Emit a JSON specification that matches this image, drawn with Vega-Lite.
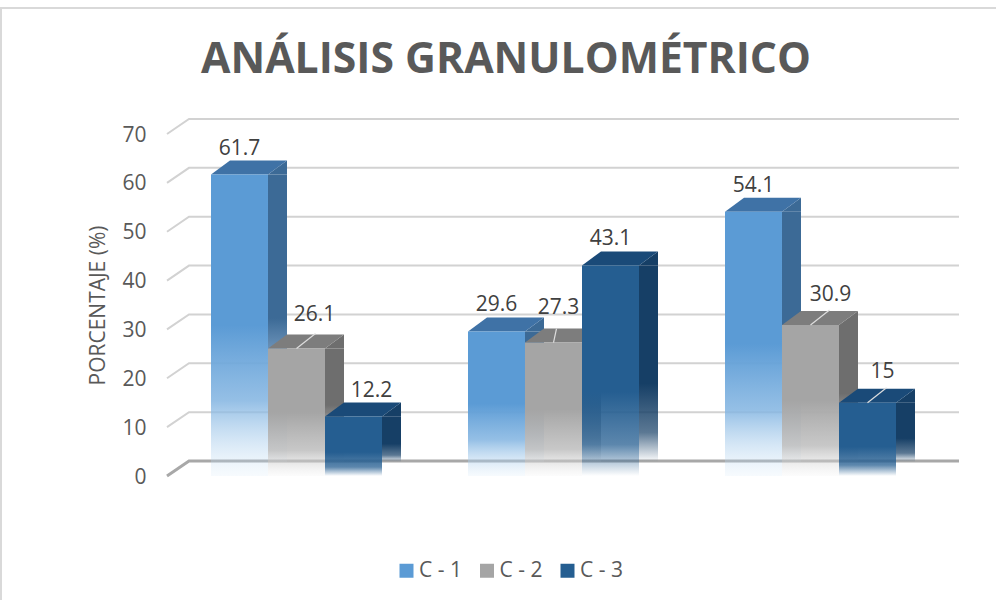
{
"$schema":"https://vega.github.io/schema/vega-lite/v6.json",
"width":1000,"height":600,"padding":{"left":1,"top":8,"right":0,"bottom":0},"autosize":{"type":"none"},
"background":"white",
"view":{"stroke":"#d9d9d9","strokeWidth":2,"fill":"white"},
"config":{"font":"Open Sans"},
"title":{"text":"ANÁLISIS GRANULOMÉTRICO","font":"Open Sans","fontWeight":"bold","fontSize":42.7,"color":"#595959","anchor":"middle","frame":"group","baseline":"alphabetic","offset":0,"dx":5,"dy":108},
"data":{"values":[
{"grupo":"M1","serie":"C - 1","valor":61.7},
{"grupo":"M1","serie":"C - 2","valor":26.1},
{"grupo":"M1","serie":"C - 3","valor":12.2},
{"grupo":"M2","serie":"C - 1","valor":29.6},
{"grupo":"M2","serie":"C - 2","valor":27.3},
{"grupo":"M2","serie":"C - 3","valor":43.1},
{"grupo":"M3","serie":"C - 1","valor":54.1},
{"grupo":"M3","serie":"C - 2","valor":30.9},
{"grupo":"M3","serie":"C - 3","valor":15}
]},
"encoding":{
"x":{"field":"grupo","type":"nominal","axis":null,"scale":{"type":"band","domain":["M1","M2","M3"],"range":[167,938],"paddingInner":0.3346,"paddingOuter":0.1673}},
"xOffset":{"field":"serie","type":"nominal","scale":{"domain":["C - 1","C - 2","C - 3"],"paddingInner":0,"paddingOuter":0}},
"y":{"field":"valor","type":"quantitative","scale":{"domain":[0,70],"range":[468,126],"nice":false},"axis":{"values":[0,10,20,30,40,50,60,70],"domain":false,"ticks":false,"grid":false,"offset":-149,"labelPadding":4,"labelOffset":1,"labelFontSize":21,"labelColor":"#595959","labelFont":"Open Sans","title":"PORCENTAJE (%)","titleFont":"Open Sans","titleFontSize":21,"titleFontWeight":"normal","titleColor":"#595959","titlePadding":13}}
},
"layer":[
{"data":{"values":[{"v":0},{"v":10},{"v":20},{"v":30},{"v":40},{"v":50},{"v":60},{"v":70}]},
 "mark":{"type":"point","shape":"M-129.5,0 L-107.5,-15 L662.5,-15","size":4,"filled":false,"opacity":1},
 "encoding":{"x":{"datum":"M1","type":"nominal"},"xOffset":{"datum":"C - 2","type":"nominal"},"y":{"field":"v","type":"quantitative"},
 "stroke":{"condition":{"test":"datum.v===0","value":"#a8a8a8"},"value":"#d2d2d2"},
 "strokeWidth":{"condition":{"test":"datum.v===0","value":3},"value":2}}},
{"mark":{"type":"point","filled":true,"shape":"square","size":0,"opacity":1},
 "encoding":{"color":{"field":"serie","type":"nominal","scale":{"domain":["C - 1","C - 2","C - 3"],"range":["#5b9bd5","#a5a5a5","#255e91"]},
 "legend":{"title":null,"orient":"none","legendX":395,"legendY":552,"direction":"horizontal","symbolType":"square","symbolSize":196,"symbolStrokeWidth":0,"symbolOpacity":1,"labelFontSize":21,"labelColor":"#595959","labelFont":"Open Sans","columnPadding":14.5,"labelOffset":2}}}},
{"transform":[{"filter":"datum.serie==='C - 1'"}],
 "mark":{"type":"bar","width":19,"xOffset":-19,"y2Offset":-14,"fill":{"x1":0,"y1":0,"x2":0,"y2":1,"gradient":"linear","stops":[{"offset":0,"color":"#3c6a96"},{"offset":0.5,"color":"#3c6a96"},{"offset":0.8,"color":"rgba(120,165,210,0.6)"},{"offset":1,"color":"rgba(200,225,245,0.1)"}]}},
 "encoding":{"xOffset":null,"y2":{"datum":0}}},
{"transform":[{"filter":"datum.serie==='C - 2'"}],
 "mark":{"type":"bar","width":19,"xOffset":38,"y2Offset":-14,"fill":{"x1":0,"y1":0,"x2":0,"y2":1,"gradient":"linear","stops":[{"offset":0,"color":"#6e6e6e"},{"offset":0.5,"color":"#6e6e6e"},{"offset":0.8,"color":"rgba(150,150,150,0.6)"},{"offset":1,"color":"rgba(220,220,220,0.1)"}]}},
 "encoding":{"xOffset":null,"y2":{"datum":0}}},
{"transform":[{"filter":"datum.serie==='C - 3'"}],
 "mark":{"type":"bar","width":19,"xOffset":95,"y2Offset":-14,"fill":{"x1":0,"y1":0,"x2":0,"y2":1,"gradient":"linear","stops":[{"offset":0,"color":"#163f66"},{"offset":0.6,"color":"#163f66"},{"offset":0.85,"color":"rgba(22,63,102,0.7)"},{"offset":1,"color":"rgba(22,63,102,0)"}]}},
 "encoding":{"xOffset":null,"y2":{"datum":0}}},
{"mark":{"type":"point","filled":true,"opacity":1,"size":4,"shape":"M28.5,0 L47.5,-14 L47.5,0 Z"},
 "encoding":{"fill":{"condition":[{"test":"datum.serie==='C - 1'","value":"#3c6a96"},{"test":"datum.serie==='C - 2'","value":"#6e6e6e"}],"value":"#163f66"}}},
{"mark":{"type":"point","filled":true,"opacity":1,"size":4,"shape":"M-28.5,0 L28.5,0 L47.5,-14 L-9.5,-14 Z"},
 "encoding":{"fill":{"condition":[{"test":"datum.serie==='C - 1'","value":"#3f72a6"},{"test":"datum.serie==='C - 2'","value":"#7d7d7d"}],"value":"#1a4a78"}}},
{"mark":{"type":"bar"},
 "encoding":{"y2":{"datum":0},
 "fill":{"condition":[
 {"test":"datum.serie==='C - 1'","value":{"x1":0,"y1":0,"x2":0,"y2":1,"gradient":"linear","stops":[{"offset":0,"color":"#5b9bd5"},{"offset":0.5,"color":"#5b9bd5"},{"offset":0.75,"color":"rgba(130,180,225,0.85)"},{"offset":1,"color":"rgba(200,225,245,0.15)"}]}},
 {"test":"datum.serie==='C - 2'","value":{"x1":0,"y1":0,"x2":0,"y2":1,"gradient":"linear","stops":[{"offset":0,"color":"#a5a5a5"},{"offset":0.5,"color":"#a5a5a5"},{"offset":0.8,"color":"rgba(190,190,190,0.85)"},{"offset":1,"color":"rgba(225,225,225,0.1)"}]}}],
 "value":{"x1":0,"y1":0,"x2":0,"y2":1,"gradient":"linear","stops":[{"offset":0,"color":"#255e91"},{"offset":0.6,"color":"#255e91"},{"offset":0.85,"color":"rgba(37,94,145,0.75)"},{"offset":1,"color":"rgba(37,94,145,0)"}]}}}},
{"transform":[{"filter":"datum.valor===26.1||datum.valor===30.9||datum.valor===15"}],
 "mark":{"type":"point","filled":false,"opacity":1,"size":4,"shape":"M0,0 L19,-15","stroke":"#dedede","strokeWidth":1.2}},
{"transform":[{"filter":"datum.valor===27.3"}],
 "mark":{"type":"point","filled":false,"opacity":1,"size":4,"shape":"M0,0 L3,-14","stroke":"#dedede","strokeWidth":1.2}},
{"transform":[{"filter":"datum.valor===61.7||datum.valor===29.6||datum.valor===43.1||datum.valor===54.1"}],
 "mark":{"type":"text","fontSize":21,"font":"Open Sans","color":"#404040","baseline":"middle","dy":-26},
 "encoding":{"text":{"field":"valor","type":"quantitative"}}},
{"transform":[{"filter":"datum.valor===26.1"}],
 "mark":{"type":"text","fontSize":21,"font":"Open Sans","color":"#404040","baseline":"middle","dx":18,"dy":-33},
 "encoding":{"text":{"field":"valor","type":"quantitative"}}},
{"transform":[{"filter":"datum.valor===30.9"}],
 "mark":{"type":"text","fontSize":21,"font":"Open Sans","color":"#404040","baseline":"middle","dx":20,"dy":-30},
 "encoding":{"text":{"field":"valor","type":"quantitative"}}},
{"transform":[{"filter":"datum.valor===27.3"}],
 "mark":{"type":"text","fontSize":21,"font":"Open Sans","color":"#404040","baseline":"middle","dx":5,"dy":-35},
 "encoding":{"text":{"field":"valor","type":"quantitative"}}},
{"transform":[{"filter":"datum.valor===12.2"}],
 "mark":{"type":"text","fontSize":21,"font":"Open Sans","color":"#404040","baseline":"middle","dx":18,"dy":-25},
 "encoding":{"text":{"field":"valor","type":"quantitative"}}},
{"transform":[{"filter":"datum.valor===15"}],
 "mark":{"type":"text","fontSize":21,"font":"Open Sans","color":"#404040","baseline":"middle","dx":15,"dy":-31},
 "encoding":{"text":{"field":"valor","type":"quantitative"}}}
]
}
